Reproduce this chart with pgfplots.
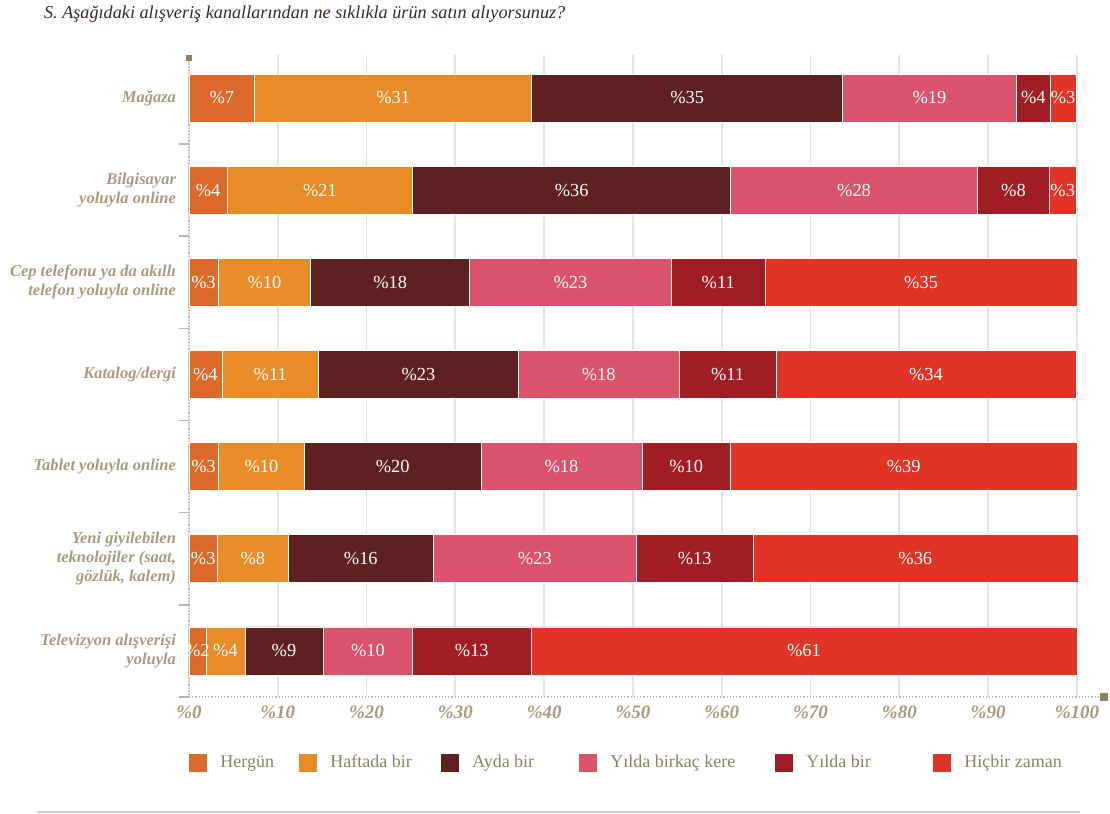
\documentclass[border=0pt]{standalone}
\usepackage{pgfplots}
\pgfplotsset{compat=1.18}
\usepackage{pgfplotstable}
\usepackage{fontspec}
\setmainfont{Liberation Serif}
\usetikzlibrary{arrows.meta}
\definecolor{cHer}{HTML}{DB6A2A}
\definecolor{cHaf}{HTML}{E88C28}
\definecolor{cAyd}{HTML}{5E2120}
\definecolor{cYbk}{HTML}{DB536A}
\definecolor{cYb}{HTML}{A01E23}
\definecolor{cHic}{HTML}{DF3426}
\definecolor{taupe}{HTML}{A89A7C}
\definecolor{taupeD}{HTML}{8E8160}
\definecolor{titlec}{HTML}{3B2A1E}

\pgfplotstableread{
y v lab
0 7.4 7
1 4.3 4
2 3.3 3
3 3.7 4
4 3.3 3
5 3.2 3
6 1.9 2
}\tHer
\pgfplotstableread{
y v lab
0 31.2 31
1 20.9 21
2 10.4 10
3 10.9 11
4 9.7 10
5 8.0 8
6 4.4 4
}\tHaf
\pgfplotstableread{
y v lab
0 35.0 35
1 35.8 36
2 17.9 18
3 22.5 23
4 19.9 20
5 16.3 16
6 8.8 9
}\tAyd
\pgfplotstableread{
y v lab
0 19.6 19
1 27.8 28
2 22.7 23
3 18.1 18
4 18.1 18
5 22.9 23
6 10.1 10
}\tYbk
\pgfplotstableread{
y v lab
0 3.8 4
1 8.1 8
2 10.6 11
3 10.9 11
4 10.0 10
5 13.1 13
6 13.3 13
}\tYb
\pgfplotstableread{
y v lab
0 2.9 3
1 3.0 3
2 35.1 35
3 33.8 34
4 39.0 39
5 36.6 36
6 61.5 61
}\tHic

\begin{document}
\begin{tikzpicture}
\useasboundingbox (0,0) rectangle (555pt,407pt);
\node[anchor=west, font=\itshape\fontsize{9.1}{10}\selectfont, text=titlec] at (18.5pt,400pt)
  {S. Aşağıdaki alışveriş kanallarından ne sıklıkla ürün satın alıyorsunuz?};
\begin{axis}[
  at={(94.5pt,58.5pt)}, anchor=south west,
  scale only axis, width=459.5pt, height=321pt,
  xbar stacked, bar width=24pt,
  xmin=0, xmax=103.5, ymin=-0.4666, ymax=6.5, y dir=reverse,
  enlargelimits=false,
  axis x line=bottom, axis y line=left,
  x axis line style={densely dotted, gray!55, line width=0.6pt, -{Square[length=4pt,width=4pt,color=taupeD]}},
  y axis line style={densely dotted, gray!55, line width=0.6pt, {Square[length=3pt,width=3pt,color=taupeD]}-},
  xtick={0,10,...,100},
  xticklabels={\%0,\%10,\%20,\%30,\%40,\%50,\%60,\%70,\%80,\%90,\%100},
  xticklabel style={font=\bfseries\itshape\fontsize{9.5}{11}\selectfont, text=taupe, yshift=-1pt},
  xmajorgrids, grid style={gray!22, line width=0.9pt},
  ytick={0,...,6},
  yticklabels={Mağaza, {Bilgisayar\\yoluyla online}, {Cep telefonu ya da akıllı\\telefon yoluyla online}, Katalog/dergi, Tablet yoluyla online, {Yeni giyilebilen\\teknolojiler (saat,\\gözlük, kalem)}, {Televizyon alışverişi\\yoluyla}},
  yticklabel style={align=right, font=\bfseries\itshape\fontsize{8.25}{9.6}\selectfont, text=taupe, xshift=-3pt},
  minor ytick={0.5,1.5,...,6.5},
  major tick length=0pt, minor tick length=5pt, tick align=outside,
  minor tick style={gray!60, line width=0.8pt},
  point meta=explicit symbolic,
  nodes near coords={\%\pgfplotspointmeta},
  every node near coord/.append style={anchor=center, font=\fontsize{9.2}{10}\selectfont, text=white, inner sep=0pt},
  legend columns=6,
  legend image code/.code={\fill[#1, draw=none] (0pt,-4.5pt) rectangle (9pt,4.5pt);},
  legend style={at={(0,-0.103)}, anchor=west, draw=none, inner sep=0pt, fill=none,
    font=\fontsize{9}{10}\selectfont, text=taupeD,
    nodes={inner sep=0pt},
    /tikz/every odd column/.append style={column sep=6.5pt}},
]
\addplot[fill=cHer, draw=white, line width=0.3pt] table[x=v, y=y, meta=lab] {\tHer};
\addplot[fill=cHaf, draw=white, line width=0.3pt] table[x=v, y=y, meta=lab] {\tHaf};
\addplot[fill=cAyd, draw=white, line width=0.3pt] table[x=v, y=y, meta=lab] {\tAyd};
\addplot[fill=cYbk, draw=white, line width=0.3pt] table[x=v, y=y, meta=lab] {\tYbk};
\addplot[fill=cYb, draw=white, line width=0.3pt] table[x=v, y=y, meta=lab] {\tYb};
\addplot[fill=cHic, draw=white, line width=0.3pt] table[x=v, y=y, meta=lab] {\tHic};
\legend{\makebox[39.5pt][l]{Hergün}, \makebox[55.5pt][l]{Haftada bir}, \makebox[53.5pt][l]{Ayda bir}, \makebox[82.5pt][l]{Yılda birkaç kere}, \makebox[63.5pt][l]{Yılda bir}, Hiçbir zaman}
\end{axis}
\draw[gray!40, line width=0.6pt] (18.5pt,1pt) -- (540pt,1pt);
\end{tikzpicture}
\end{document}
